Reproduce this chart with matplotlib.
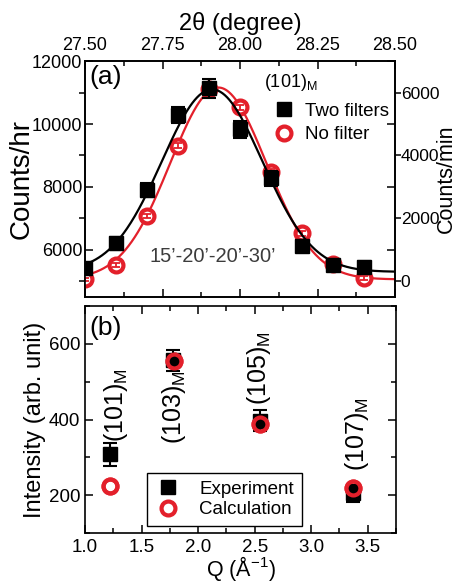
import numpy as np
import matplotlib
matplotlib.use("Agg")
import matplotlib.pyplot as plt
from matplotlib.lines import Line2D
from matplotlib.ticker import MultipleLocator, FormatStrFormatter

plt.rcParams['font.family'] = ['Liberation Sans', 'DejaVu Sans']
plt.rcParams['mathtext.fontset'] = 'custom'
plt.rcParams['mathtext.rm'] = 'Liberation Sans'
plt.rcParams['mathtext.it'] = 'Liberation Sans:italic'

RED = '#e3202b'

# panel (a): 2theta scan of (101)_M
two_theta = [27.5, 27.6, 27.7, 27.8, 27.9, 28.0, 28.1, 28.2, 28.3, 28.4]
two_filters = [5410, 6210, 7900, 10280, 11130, 9830, 8270, 6120, 5520, 5460]
two_filters_err = [180, 200, 230, 260, 300, 270, 240, 200, 190, 190]
no_filter = [60, 520, 2070, 4310, 6100, 5530, 3480, 1520, 540, 110]
no_filter_err = [60, 60, 70, 80, 90, 85, 75, 65, 60, 60]

# gaussian fit parameters (center, sigma, amplitude, background)
fit_two_filters = (27.91, 0.162, 5800, 5300)
fit_no_filter = (27.93, 0.155, 6100, 60)

# panel (b): integrated intensities
q_exp = [1.22, 1.78, 2.547, 3.366]
int_exp = [308, 556, 397, 205]
int_exp_err = [30, 28, 28, 23]
q_calc = [1.22, 1.785, 2.547, 3.37]
int_calc = [223, 554, 387, 218]
peak_labels = ['(101)', '(103)', '(105)', '(107)']
label_q = [1.275, 1.79, 2.535, 3.405]
label_y = [340, 334, 439, 263]


def gauss(x, p):
    c, s, a, b = p
    return b + a * np.exp(-(x - c) ** 2 / (2 * s ** 2))


fig = plt.figure(figsize=(4.58, 5.84), dpi=100)

# ---------- panel (a)
ax1 = fig.add_axes([0.1856, 0.4914, 0.677, 0.404])
ax2 = ax1.twinx()

xs = np.linspace(27.5, 28.5, 400)
ax1.plot(xs, gauss(xs, fit_two_filters), color='black', lw=1.6, zorder=2)
ax1.errorbar(two_theta, two_filters, yerr=two_filters_err, fmt='s', color='black',
             ms=9.5, elinewidth=1.5, capsize=5, capthick=1.5, zorder=3)

ax2.plot(xs, gauss(xs, fit_no_filter), color=RED, lw=1.6, zorder=2)
ax2.plot(two_theta, no_filter, 'o', ms=10, mfc='white', mec=RED, mew=3, zorder=3)
ax2.errorbar(two_theta, no_filter, yerr=no_filter_err, fmt='none', ecolor=RED,
             elinewidth=1.3, capsize=3, capthick=1.3, zorder=4)

ax1.set_xlim(27.5, 28.5)
ax1.set_ylim(4500, 12000)
ax2.set_ylim(-500, 7000)
ax1.set_zorder(ax2.get_zorder() + 1)
ax1.patch.set_visible(False)

ax1.xaxis.set_major_locator(MultipleLocator(0.25))
ax1.xaxis.set_minor_locator(MultipleLocator(0.125))
ax1.xaxis.set_major_formatter(FormatStrFormatter('%.2f'))
ax1.xaxis.set_label_position('top')
ax1.tick_params(axis='x', which='both', direction='in', top=True, bottom=True,
                labeltop=True, labelbottom=False, labelsize=13, width=1.1, pad=5)
ax1.tick_params(axis='x', which='major', length=6)
ax1.tick_params(axis='x', which='minor', length=3.5)
ax1.set_xlabel('2θ (degree)', fontsize=17, labelpad=5)

ax1.yaxis.set_major_locator(MultipleLocator(2000))
ax1.tick_params(axis='y', which='both', direction='in', left=True, right=True,
                labelsize=13, width=1.1, pad=2)
ax1.tick_params(axis='y', which='major', length=6)
ax1.set_ylabel('Counts/hr', fontsize=20, labelpad=-2)

ax2.set_yticks([0, 2000, 4000, 6000])
ax2.tick_params(axis='y', which='major', direction='out', left=True, right=True,
                labelleft=False, labelright=True, labelsize=12.5, length=4, width=1.1, pad=0)
ax2.set_ylabel('Counts/min', fontsize=15.5, labelpad=-2)

for ax in (ax1, ax2):
    for sp in ax.spines.values():
        sp.set_linewidth(1.2)

ax1.text(0.015, 0.985, '(a)', transform=ax1.transAxes, fontsize=19, ha='left', va='top')
ax1.text(0.577, 0.91, r'(101)$_{\mathrm{M}}$', transform=ax1.transAxes, fontsize=13,
         ha='left', va='center')
ax1.text(0.413, 0.17, '15’-20’-20’-30’', transform=ax1.transAxes, fontsize=14.5,
         color='#3c3c3c', ha='center', va='center')

h1 = [Line2D([], [], ls='none', marker='s', color='black', ms=9.5),
      Line2D([], [], ls='none', marker='o', ms=10, mfc='white', mec=RED, mew=3)]
ax1.legend(h1, ['Two filters', 'No filter'], loc='upper left',
           bbox_to_anchor=(0.612, 0.824), frameon=False, fontsize=13.5,
           borderaxespad=0, borderpad=0, handlelength=1.0, handletextpad=0.6,
           labelspacing=0.35)

# ---------- panel (b)
ax3 = fig.add_axes([0.1856, 0.0873, 0.679, 0.3887])
ax3.plot(q_calc, int_calc, 'o', ms=10, mfc='none', mec=RED, mew=3, zorder=2)
ax3.errorbar(q_exp, int_exp, yerr=int_exp_err, fmt='s', color='black', ms=9.5,
             elinewidth=1.5, capsize=5, capthick=1.5, zorder=3)
ax3.plot(q_calc, int_calc, 'o', ms=10, mfc='none', mec=RED, mew=3, zorder=4)

for q, y, lab in zip(label_q, label_y, peak_labels):
    ax3.text(q, y, lab + r'$_{\mathrm{M}}$', rotation=90, fontsize=18,
             ha='center', va='bottom')

ax3.set_xlim(1.0, 3.75)
ax3.set_ylim(100, 700)
ax3.xaxis.set_major_locator(MultipleLocator(0.5))
ax3.xaxis.set_minor_locator(MultipleLocator(0.25))
ax3.xaxis.set_major_formatter(FormatStrFormatter('%.1f'))
ax3.yaxis.set_minor_locator(MultipleLocator(100))
ax3.set_yticks([200, 400, 600])
ax3.tick_params(which='both', direction='in', top=True, right=True, width=1.1,
                labelsize=13.5)
ax3.tick_params(axis='x', which='both', pad=4)
ax3.tick_params(which='major', length=6)
ax3.tick_params(which='minor', length=3.5)
ax3.set_xlabel('Q (Å$^{-1}$)', fontsize=15.5, labelpad=-1)
ax3.set_ylabel('Intensity (arb. unit)', fontsize=17, labelpad=2)
for sp in ax3.spines.values():
    sp.set_linewidth(1.2)

ax3.text(0.015, 0.955, '(b)', transform=ax3.transAxes, fontsize=19, ha='left', va='top')

h3 = [Line2D([], [], ls='none', marker='s', color='black', ms=9.5),
      Line2D([], [], ls='none', marker='o', ms=10, mfc='none', mec=RED, mew=3)]
leg = ax3.legend(h3, ['Experiment', 'Calculation'], loc='lower left',
                 bbox_to_anchor=(0.199, 0.031), fancybox=False, edgecolor='black',
                 fontsize=13.5, borderaxespad=0, borderpad=0.4, handlelength=1.5,
                 handletextpad=0.9, labelspacing=0.2, framealpha=1)
leg.get_frame().set_linewidth(1.0)

fig.savefig('out.png', dpi=100)
